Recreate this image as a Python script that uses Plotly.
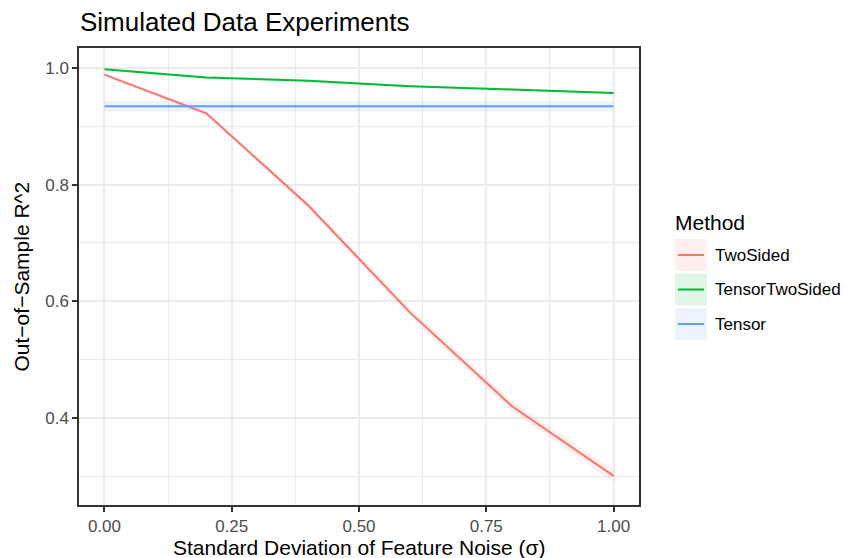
import plotly.graph_objects as go

# ---- data ----
noise_sd = [0.0, 0.2, 0.4, 0.6, 0.8, 1.0]
methods = ["TwoSided", "TensorTwoSided", "Tensor"]
two_sided = [0.9885, 0.922, 0.7646, 0.581, 0.4205, 0.301]
two_sided_se = [0.003, 0.004, 0.005, 0.007, 0.009, 0.011]
tensor_two_sided = [0.9975, 0.9835, 0.978, 0.9686, 0.963, 0.957]
tensor_two_sided_se = [0.002, 0.002, 0.002, 0.002, 0.002, 0.002]
tensor = [0.934, 0.934, 0.934, 0.934, 0.934, 0.934]
tensor_se = [0.009, 0.009, 0.009, 0.009, 0.009, 0.009]
x_ticks = [0.0, 0.25, 0.5, 0.75, 1.0]
x_tick_labels = ["0.00", "0.25", "0.50", "0.75", "1.00"]
y_ticks = [0.4, 0.6, 0.8, 1.0]
y_tick_labels = ["0.4", "0.6", "0.8", "1.0"]

colors = ["#F8766D", "#00BA38", "#619CFF"]
fills = ["rgba(248,118,109,0.12)", "rgba(0,186,56,0.12)", "rgba(97,156,255,0.12)"]
series = [two_sided, tensor_two_sided, tensor]
ses = [two_sided_se, tensor_two_sided_se, tensor_se]

W, H = 845, 558
ML, MR, MT, MB = 79, 206, 48, 53
FONT = "Liberation Sans, Arial, Helvetica, sans-serif"

fig = go.Figure()

# ribbons
for vals, se, fc in zip(series, ses, fills):
    lo = [v - s for v, s in zip(vals, se)]
    hi = [v + s for v, s in zip(vals, se)]
    fig.add_trace(go.Scatter(x=noise_sd, y=lo, mode="lines", line=dict(width=0),
                             hoverinfo="skip", showlegend=False))
    fig.add_trace(go.Scatter(x=noise_sd, y=hi, mode="lines", line=dict(width=0),
                             fill="tonexty", fillcolor=fc, hoverinfo="skip", showlegend=False))

# lines
for name, vals, c in zip(methods, series, colors):
    fig.add_trace(go.Scatter(x=noise_sd, y=vals, mode="lines", name=name,
                             line=dict(color=c, width=2), showlegend=False))

axis_common = dict(
    showgrid=True, gridcolor="#EBEBEB", gridwidth=2,
    showline=True, linecolor="#333333", linewidth=1.5, mirror=True,
    ticks="outside", ticklen=5, tickwidth=1.5, tickcolor="#333333",
    tickfont=dict(family=FONT, size=17, color="#4D4D4D"),
    zeroline=False,
)
fig.update_xaxes(range=[-0.05, 1.05], tickvals=x_ticks, ticktext=x_tick_labels,
                 minor=dict(tickvals=[0.125, 0.375, 0.625, 0.875], showgrid=True,
                            gridcolor="#EBEBEB", gridwidth=1, ticks=""),
                 **axis_common)
fig.update_yaxes(range=[0.251, 1.034], tickvals=y_ticks, ticktext=y_tick_labels,
                 minor=dict(tickvals=[0.3, 0.5, 0.7, 0.9], showgrid=True,
                            gridcolor="#EBEBEB", gridwidth=1, ticks=""),
                 **axis_common)

PW, PH = W - ML - MR, H - MT - MB

def px(xp):
    return (xp - ML) / PW

def py(yp):
    return (H - MB - yp) / PH

annotations = [
    dict(text="Standard Deviation of Feature Noise (σ)", x=0.5, y=py(547),
         xref="paper", yref="paper", xanchor="center", yanchor="middle",
         showarrow=False, font=dict(family=FONT, size=21, color="black")),
    dict(text="Out−of−Sample R^2", x=px(21), y=0.5, textangle=-90,
         xref="paper", yref="paper", xanchor="center", yanchor="middle",
         showarrow=False, font=dict(family=FONT, size=21, color="black")),
    dict(text="Method", x=px(673), y=py(222), xref="paper", yref="paper",
         xanchor="left", yanchor="middle", showarrow=False,
         font=dict(family=FONT, size=21, color="black")),
]
shapes = []
key_tops = [239, 273.5, 308]
for name, c, fc, top in zip(methods, colors, fills, key_tops):
    shapes.append(dict(type="rect", xref="paper", yref="paper",
                       x0=px(675), x1=px(707), y0=py(top), y1=py(top + 32),
                       fillcolor=fc, line=dict(width=0), layer="above"))
    cy = top + 16
    shapes.append(dict(type="line", xref="paper", yref="paper",
                       x0=px(678), x1=px(704), y0=py(cy), y1=py(cy),
                       line=dict(color=c, width=2), layer="above"))
    annotations.append(dict(text=name, x=px(713), y=py(cy), xref="paper", yref="paper",
                            xanchor="left", yanchor="middle", showarrow=False,
                            font=dict(family=FONT, size=17, color="black")))

fig.update_layout(
    width=W, height=H,
    margin=dict(l=ML, r=MR, t=MT, b=MB, autoexpand=False),
    paper_bgcolor="white", plot_bgcolor="white",
    title=dict(text="Simulated Data Experiments", x=px(80), xref="paper", xanchor="left",
               y=1 - 22 / H, yref="container", yanchor="middle",
               font=dict(family=FONT, size=26, color="black")),
    annotations=annotations, shapes=shapes,
    showlegend=False,
)

fig.write_html("out.html", config={"displayModeBar": False},
               post_script="document.body.style.margin='0';document.body.style.padding='0';")
